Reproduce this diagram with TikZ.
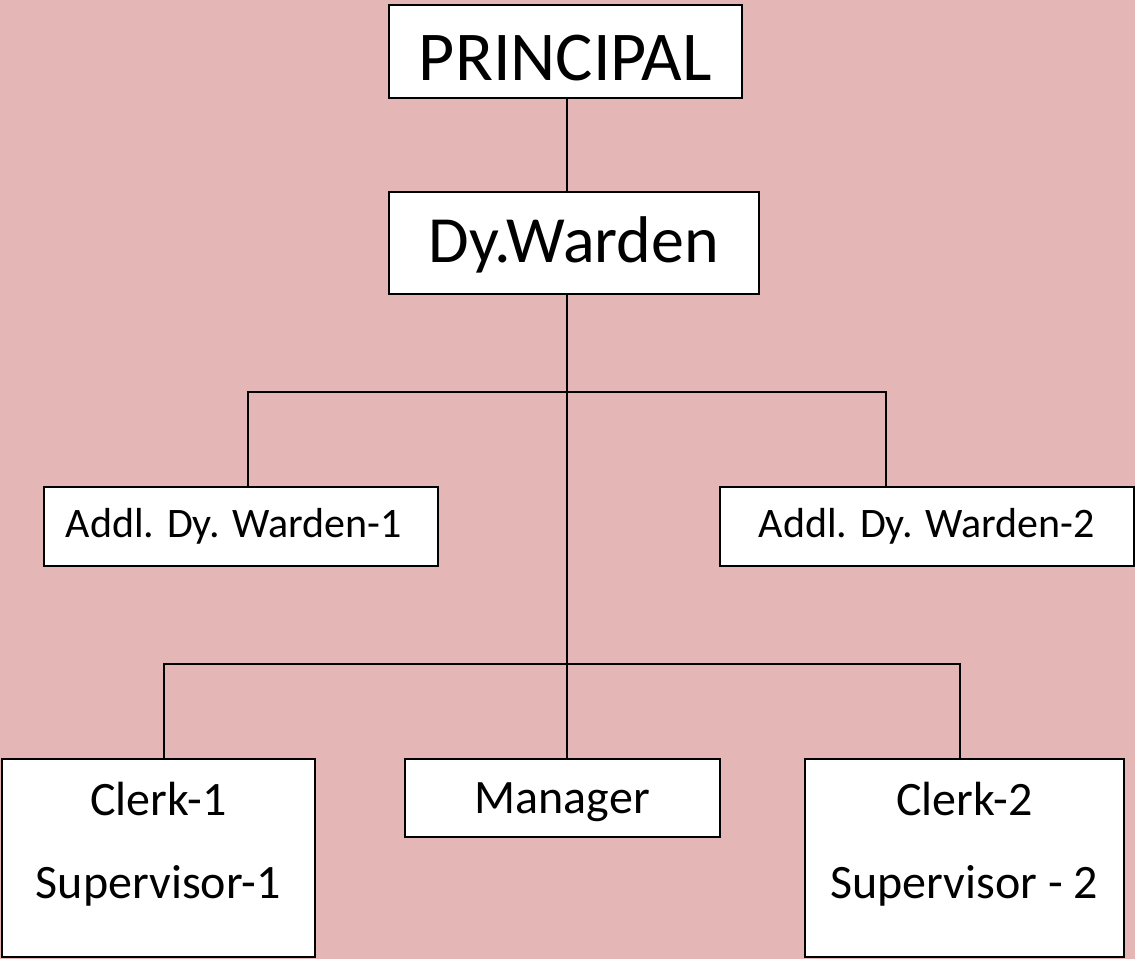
\documentclass[tikz,border=0pt]{standalone}
\usepackage{fontspec}
\setmainfont{Carlito}
\definecolor{bg}{HTML}{E4B6B6}
\tikzset{
  box/.style={draw=black, fill=white, line width=1.5pt, inner sep=0pt, anchor=north west},
  link/.style={draw=black, line width=1.5pt},
}
% width, height, first baseline from top, font, text
\newcommand{\bxt}[5]{\parbox[c][#2][t]{#1}{\centering#4\rule{0pt}{#3}#5}}
\begin{document}
\begin{tikzpicture}[x=1pt,y=-1pt]
\useasboundingbox (0,0) rectangle (1135,959);
\fill[bg] (0,0) rectangle (1135,959);

\node[box] (principal) at (388,4)
  {\bxt{353pt}{93pt}{76pt}{\fontsize{70}{84}\selectfont}{PRINCIPAL}};
\node[box] (warden) at (388,191)
  {\bxt{370pt}{102pt}{71pt}{\fontsize{66}{79}\selectfont}{Dy.Warden}};
\node[box] (addl1) at (43,486)
  {\bxt{394pt}{79pt}{51pt}{\fontsize{42}{50}\selectfont}{Addl. Dy. Warden-1\hspace*{14pt}}};
\node[box] (addl2) at (719,486)
  {\bxt{414pt}{79pt}{51pt}{\fontsize{42}{50}\selectfont}{Addl. Dy. Warden-2}};
\node[box] (clerk1) at (1,758)
  {\bxt{313pt}{198pt}{57pt}{\fontsize{48}{83}\selectfont}{Clerk-1\\Supervisor-1}};
\node[box] (manager) at (404,758)
  {\bxt{315pt}{78pt}{55pt}{\fontsize{48}{58}\selectfont}{Manager}};
\node[box] (clerk2) at (804,758)
  {\bxt{319pt}{198pt}{57pt}{\fontsize{48}{83}\selectfont}{Clerk-2\\Supervisor - 2}};

\coordinate (t1) at (567,392);
\coordinate (a1) at (248,392);
\coordinate (a2) at (886,392);
\coordinate (c1) at (164,664);
\coordinate (c2) at (960,664);

\draw[link] (principal.south -| t1) -- (warden.north -| t1);
\draw[link] (warden.south -| t1) -- (manager.north -| t1);
\draw[link] (a1 |- addl1.north) -- (a1) -- (a2) -- (a2 |- addl2.north);
\draw[link] (c1 |- clerk1.north) -- (c1) -- (c2) -- (c2 |- clerk2.north);
\end{tikzpicture}
\end{document}
